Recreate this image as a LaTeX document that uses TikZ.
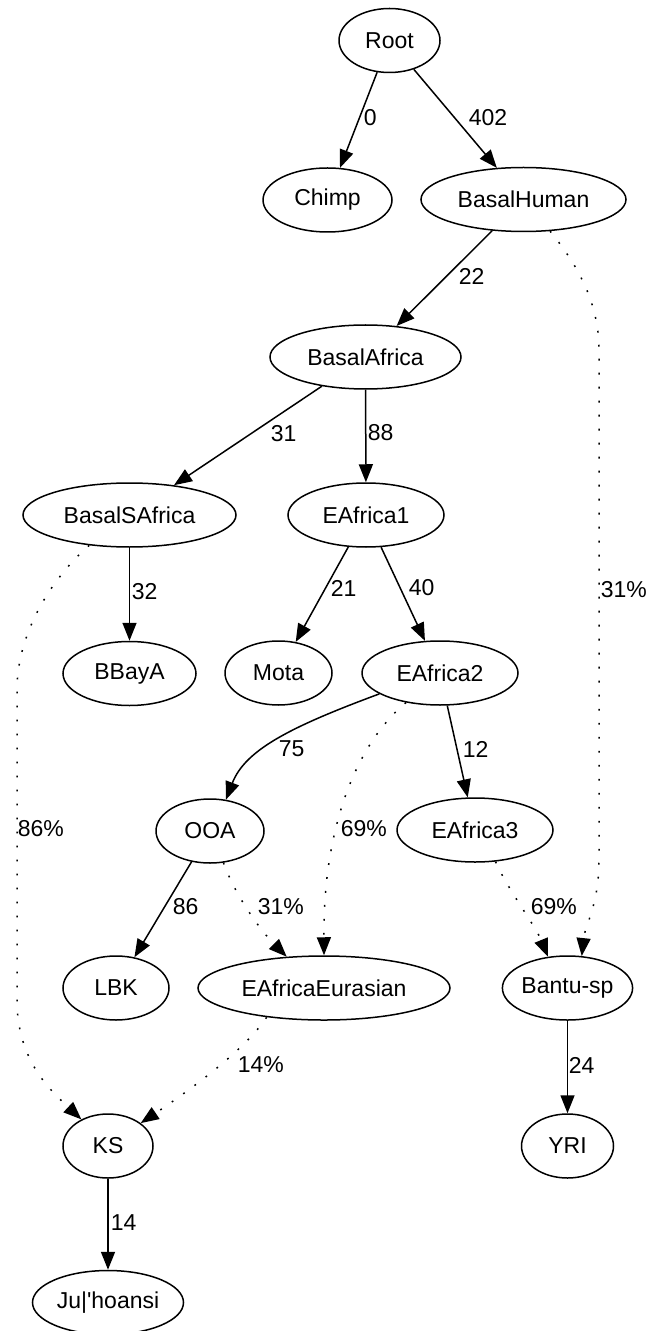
\documentclass[tikz,border=0pt]{standalone}
\usepackage{fontspec}
\setmainfont{Liberation Sans}
\usetikzlibrary{shapes.geometric,arrows.meta}
\tikzset{
    pop/.style={draw, ellipse, inner sep=0pt, minimum height=32pt, line width=0.75pt,
      font=\fontsize{11.5}{13.8}\selectfont},
    branch/.style={line width=0.75pt, -{Triangle[length=9pt,width=7pt]}},
    mix/.style={branch, dash pattern=on 0.9pt off 6.1pt},
    wt/.style={anchor=west, inner sep=0pt, font=\fontsize{11.5}{13.8}\selectfont},
  }
\begin{document}
\begin{tikzpicture}[x=0.5pt,y=-0.5pt]
				  \useasboundingbox (0,0) rectangle (646,1331);
				  %ROOT, CHIMP, BASALHUMAN
				  \node[pop, minimum width=50.5pt] (Root) at (389.5,40.5) {Root};
				  \node[pop, minimum width=64.5pt] (Chimp) at (327.5,200) {Chimp};
				  \node[pop, minimum width=102.5pt] (BH) at (523.5,199.5) {BasalHuman};
				  \draw[branch] (Root) -- (Chimp) node[wt] at (363,118) {0};
				  \draw[branch] (Root) -- (BH) node[wt] at (468,118) {402};
				  
				  %AFRICA
				  \node[pop, minimum width=95.5pt] (BA) at (365.5,357) {BasalAfrica};
				  \node[pop, minimum width=106.5pt] (BSA) at (129.5,515) {BasalSAfrica};
				  \node[pop, minimum width=78pt] (EA1) at (366,515) {EAfrica1};
				  \draw[branch] (BH) -- (BA) node[wt] at (458,276) {22};
				  \draw[branch] (BA) -- (BSA) node[wt] at (270,434) {31};
				  \draw[branch] (BA) -- (EA1) node[wt] at (367,433) {88};
				  
				  %BBAYA, MOTA, EAFRICA2
				  \node[pop, minimum width=66.5pt] (BBay) at (129.5,673.5) {BBayA};
				  \node[pop, minimum width=53.5pt] (Mota) at (278.5,673) {Mota};
				  \node[pop, minimum width=78pt] (EA2) at (440,673) {EAfrica2};
				  \draw[branch] (BSA) -- (BBay) node[wt] at (131,592) {32};
				  \draw[branch] (EA1) -- (Mota) node[wt] at (330,588) {21};
				  \draw[branch] (EA1) -- (EA2) node[wt] at (408,588) {40};
				  
				  %OOA, EAFRICA3
				  \node[pop, minimum width=54pt] (OOA) at (210,831) {OOA};
				  \node[pop, minimum width=78pt] (EA3) at (475,830) {EAfrica3};
				  \draw[branch] (EA2.199) .. controls (290,727) and (245,750) .. (OOA.63) node[wt] at (278,749) {75};
				  \draw[branch] (EA2) -- (EA3) node[wt] at (462,749) {12};
				  
				  %LBK, EAFRICAEURASIAN, BANTU
				  \node[pop, minimum width=53pt] (LBK) at (116,988) {LBK};
				  \node[pop, minimum width=126pt] (EAE) at (324,988) {EAfricaEurasian};
				  \node[pop, minimum width=57.5pt] (Bantu) at (567.5,988) {Bantu-sp};
				  \draw[branch] (OOA) -- (LBK) node[wt] at (172,907) {86};
				  
				  %KS, YRI, JU
				  \node[pop, minimum width=45pt] (KS) at (108,1146) {KS};
				  \node[pop, minimum width=46pt] (YRI) at (567.5,1146) {YRI};
				  \node[pop, minimum width=75.5pt] (Ju) at (108,1302.5) {Ju|\textquotesingle hoansi};
				  \draw[branch] (Bantu) -- (YRI) node[wt] at (568,1065) {24};
				  \draw[branch] (KS) -- (Ju) node[wt] at (110,1223) {14};
				  
				  %ADMIXTURE (dotted)
				  \draw[mix] (BH.310) .. controls (575,262) and (599,300) .. (599,350) -- (599,860)
				    .. controls (599,905) and (585,925) .. (Bantu.66) node[wt] at (600,590) {31\%};
				  \draw[mix] (BSA.217) .. controls (55,575) and (17,630) .. (17,690) -- (17,1000)
				    .. controls (17,1060) and (50,1090) .. (KS.135) node[wt] at (17,829) {86\%};
				  \draw[mix] (EA2.221) .. controls (355,745) and (323,830) .. (EAE.north) node[wt] at (340,829) {69\%};
				  \draw[mix] (OOA.293) .. controls (235,895) and (260,930) .. (EAE.140) node[wt] at (257,907) {31\%};
				  \draw[mix] (EA3.303) .. controls (508,890) and (535,925) .. (Bantu.122) node[wt] at (530,907) {69\%};
				  \draw[mix] (EAE.207) .. controls (245,1050) and (190,1090) .. (KS.35) node[wt] at (237,1065) {14\%};
				  \end{tikzpicture}
\end{document}
